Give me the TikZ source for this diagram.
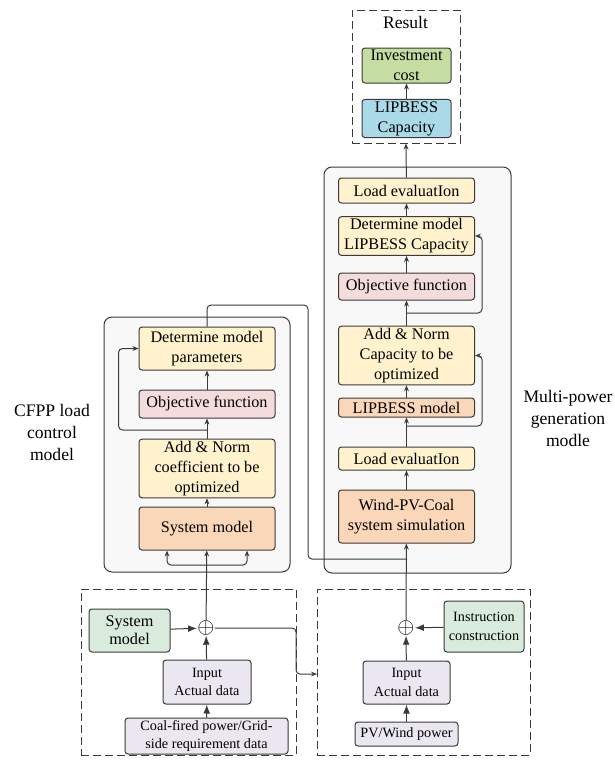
\documentclass[tikz,border=0pt]{standalone}
\usepackage{fontspec}
\setmainfont{Liberation Serif}
\usetikzlibrary{arrows.meta}

\definecolor{cyel}{HTML}{FFF2CC}
\definecolor{cpink}{HTML}{F4DCDC}
\definecolor{corg}{HTML}{FAD7B8}
\definecolor{cmint}{HTML}{D8EBDC}
\definecolor{cinv}{HTML}{C6DDA2}
\definecolor{cblue}{HTML}{AADAE8}
\definecolor{clav}{HTML}{EBE7F1}
\definecolor{cpanel}{HTML}{F8F8F8}
\definecolor{cline}{HTML}{3A3A3A}

\newcommand\fsmain{\fontsize{8.1}{10}\selectfont}
\newcommand\fssmall{\fontsize{7.1}{9.2}\selectfont}
\newcommand\fsside{\fontsize{8.8}{11}\selectfont}

\tikzset{
  blk/.style={draw=cline, line width=0.5pt, rounded corners=1.5pt, inner sep=1pt,
    align=center, font=\fsmain},
  yblk/.style={blk, fill=cyel, minimum width=68pt},
  pblk/.style={blk, fill=cpink, minimum width=68pt},
  oblk/.style={blk, fill=corg, minimum width=68pt},
  gblk/.style={blk, fill=cmint},
  lblk/.style={blk, fill=clav, font=\fssmall},
  panel/.style={draw=cline, line width=0.5pt, fill=cpanel, rounded corners=4pt},
  dbox/.style={draw=cline, line width=0.5pt, dash pattern=on 4pt off 2pt},
  sml/.style={draw=cline, line width=0.5pt, -{Stealth[length=3pt,width=2.4pt]}},
  big/.style={draw=cline, line width=0.5pt, -{Latex[length=4.5pt,width=3.4pt]}},
  opl/.style={inner sep=0pt, font=\fontsize{11}{11}\selectfont},
}

\begin{document}
\begin{tikzpicture}[x=0.5pt, y=-0.5pt]
    \useasboundingbox (0,0) rectangle (615,761);

    % result
    \node[dbox, minimum width=54pt, minimum height=66.5pt] (res) at (406,76.5) {};
    \node[font=\fontsize{8.8}{10}\selectfont] (rest) at (405.5,22) {Result};
    \node[blk, fill=cinv, minimum width=44.5pt, minimum height=17.5pt] (inv) at (406.5,65.5) {Investment\\cost};
    \node[blk, fill=cblue, minimum width=44.5pt, minimum height=18.5pt] (cap) at (406.5,118.5) {LIPBESS\\Capacity};

    % panels
    \draw[panel] (104,317) rectangle (290,572);
    \draw[panel] (324,167) rectangle (511,573);

    % multi-power generation
    \node[yblk, minimum height=12.5pt] (r1) at (406.5,190.5) {Load evaluatIon};
    \node[yblk, minimum height=18pt]   (r2) at (406.5,236)   {Determine model\\LIPBESS Capacity};
    \node[pblk, minimum height=13.5pt] (r3) at (406.5,286.5) {Objective function};
    \node[yblk, minimum height=28.5pt] (r4) at (406.5,355.5) {Add \& Norm\\Capacity to be\\optimized};
    \node[oblk, minimum height=9.5pt]  (r5) at (406.5,407.5) {LIPBESS model};
    \node[yblk, minimum height=11.5pt] (r6) at (406.5,458.5) {Load evaluatIon};
    \node[oblk, minimum height=26.5pt] (r7) at (406.5,516.5) {Wind-PV-Coal\\system simulation};

    % CFPP load control
    \node[yblk, minimum height=21.5pt] (l1) at (207,348.5) {Determine model\\parameters};
    \node[pblk, minimum height=14pt]   (l2) at (207,404)   {Objective function};
    \node[yblk, minimum height=26.5pt] (l3) at (207,468.5) {Add \& Norm\\coefficient to be\\optimized};
    \node[oblk, minimum height=21.5pt] (l4) at (207,528.5) {System model};

    \node[font=\fsside, align=center] (cfpp)  at (52,432)  {CFPP load\\control\\model};
    \node[font=\fsside, align=center] (multi) at (568,418) {Multi-power\\generation\\modle};

    % inputs
    \node[dbox, minimum width=107.5pt, minimum height=83pt] (lin) at (188.5,672) {};
    \node[dbox, minimum width=106.5pt, minimum height=83pt] (rin) at (423.5,672) {};

    \node[gblk, font=\fontsize{8.1}{9}\selectfont, minimum width=40.5pt, minimum height=21.5pt] (sm) at (129.5,630.5) {System\\model};
    \node[opl] (op1) at (206,628) {$\oplus$};
    \node[lblk, minimum width=44pt, minimum height=22pt] (in1) at (207,682) {Input\\Actual data};
    \node[lblk, minimum width=81.5pt, minimum height=18pt] (coal) at (206.5,736) {Coal-fired power/Grid-\\side requirement data};

    \node[opl] (op2) at (406,628) {$\oplus$};
    \node[gblk, font=\fssmall, minimum width=40pt, minimum height=25.5pt] (ins) at (484,626.5) {Instruction\\construction};
    \node[lblk, minimum width=43.5pt, minimum height=21.5pt] (in2) at (406.5,682.5) {Input\\Actual data};
    \node[lblk, minimum width=51.5pt, minimum height=12pt] (pv) at (406.5,734) {PV/Wind power};

    \coordinate (lb) at (207,565);
    \coordinate (lf) at (207,430);
    \coordinate (rf1) at (407,313);
    \coordinate (rf2) at (407,426);
    \coordinate (tp) at (308,305);
    \coordinate (jn) at (407,559);
    \coordinate (bend) at (296,628);
    \coordinate (rinl) at (317,674);

    \begin{scope}[every path/.style={sml}]
       \draw (r7) -- (r6);
       \draw (r6) -- (r5);
       \draw (r5) -- (r4);
       \draw (r4) -- (r3);
       \draw (r3) -- (r2);
       \draw (r2) -- (r1);
       \draw (r1) -- (res.south);
       \draw (cap) -- (inv);
       \draw (l4) -- (l3);
       \draw (l3) -- (l2);
       \draw (l2) -- (l1);
       \draw (op1) -- (l4);
       \draw (op2) -- (r7);
       \draw[rounded corners=2pt] (lb) -| ([xshift=-20pt]l4.south);
       \draw[rounded corners=2pt] (lb) -| ([xshift=20pt]l4.south);
       \draw[rounded corners=2pt] (lf) -| ([xshift=-10pt]l1.west) -- (l1.west);
       \draw[rounded corners=2pt] (rf1) -| ([xshift=3.5pt]r2.east) -- (r2.east);
       \draw[rounded corners=2pt] (rf2) -| ([xshift=3.5pt]r4.east) -- (r4.east);
       \draw[rounded corners=2pt] (op1.east) -- (bend) |- (rinl);
    \end{scope}

    \draw[draw=cline, line width=0.5pt, rounded corners=2pt] (l1.north) |- (tp) |- (jn);

    \begin{scope}[every path/.style={big}]
       \draw (sm) -- (op1);
       \draw (in1) -- (op1);
       \draw (coal) -- (in1);
       \draw (ins) -- (op2);
       \draw (in2) -- (op2);
       \draw (pv) -- (in2);
    \end{scope}

\end{tikzpicture}
\end{document}
